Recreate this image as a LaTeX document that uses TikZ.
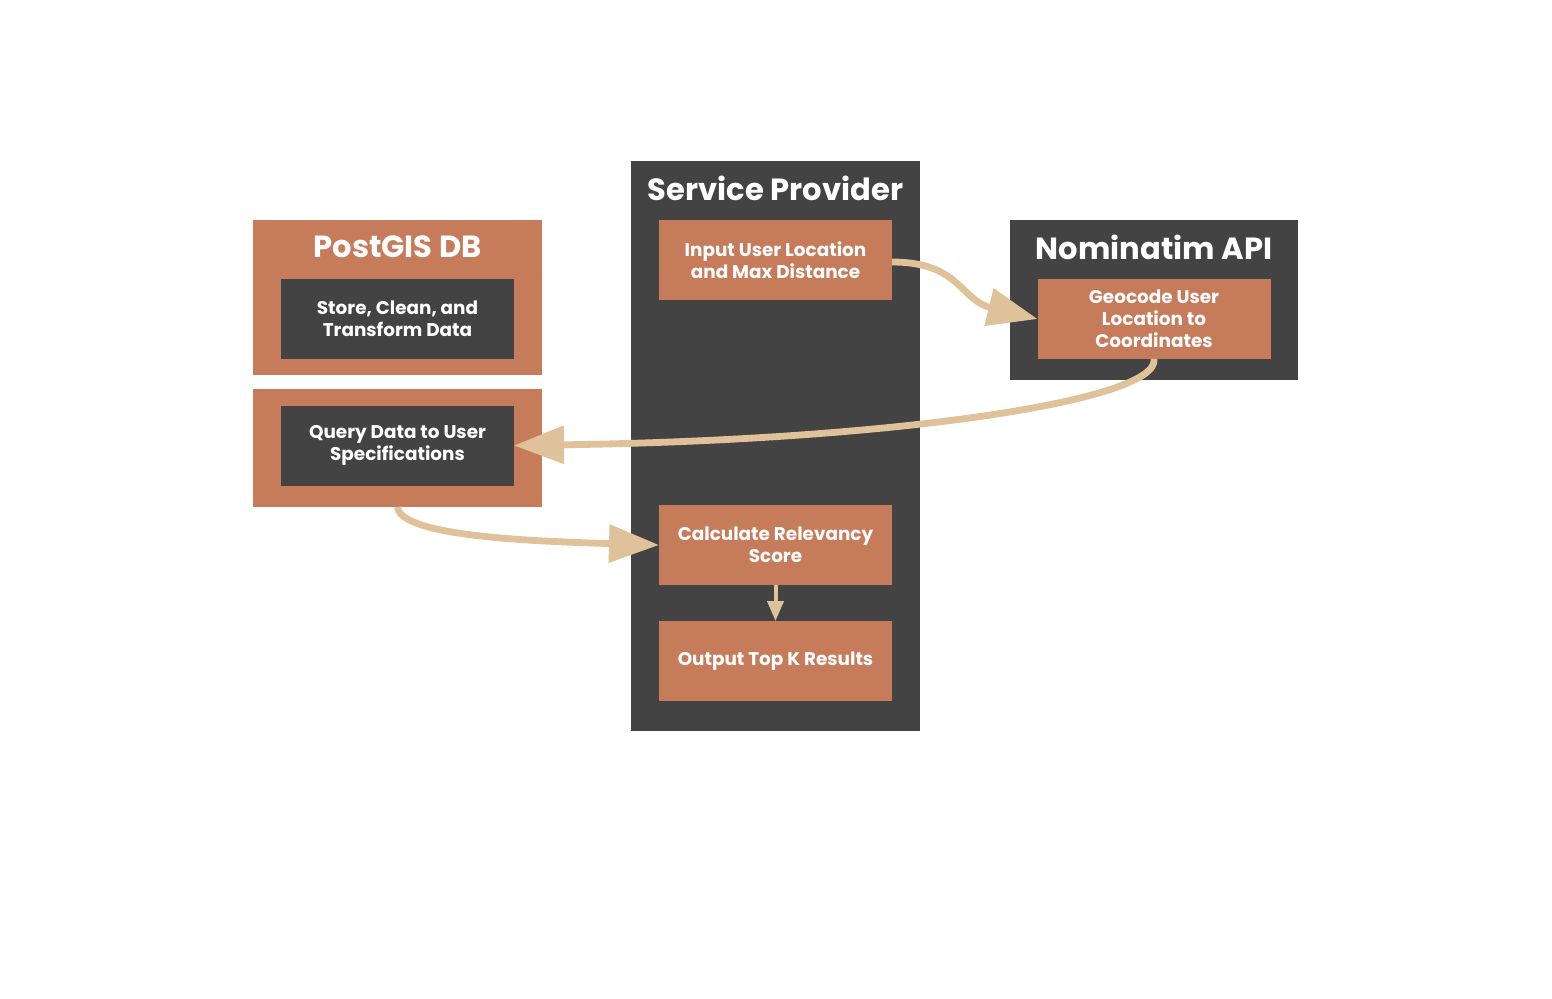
\documentclass[tikz,border=0pt]{standalone}
\usepackage{fontspec}
\setmainfont{Poppins}
\usetikzlibrary{arrows.meta}
\definecolor{orng}{HTML}{C67B5A}
\definecolor{dgray}{HTML}{434343}
\definecolor{tan}{HTML}{DFC19A}
\begin{document}
\begin{tikzpicture}[x=0.5pt,y=-0.5pt,
  panel/.style={inner sep=0pt, outer sep=0pt, minimum width=144.5pt},
  inbox/.style={inner sep=0pt, outer sep=0pt, minimum width=116.5pt, minimum height=40pt,
    text=white, font=\bfseries\fontsize{9.2}{11}\selectfont, align=center},
  ttl/.style={text=white, font=\bfseries\fontsize{15.3}{17}\selectfont, inner sep=0pt},
  flow/.style={draw=tan, line width=3.4pt, -{Triangle[length=25pt,width=18.5pt]}},
  smallflow/.style={draw=tan, line width=2pt, -{Triangle[length=10pt,width=8pt]}}]
\useasboundingbox[fill=white] (0,0) rectangle (1552,998);
% panels
\node[panel, fill=orng, minimum height=77.5pt] (pgtop) at (397.5,297.5) {};
\node[panel, fill=orng, minimum height=59pt] (pgbot) at (397.5,448) {};
\node[panel, fill=dgray, minimum height=285pt] (sp) at (775.5,446) {};
\node[panel, fill=dgray, minimum width=144pt, minimum height=80pt] (nom) at (1154,300) {};
% titles
\node[ttl] (pgt) at (397.5,247) {PostGIS DB};
\node[ttl] (spt) at (775.5,188) {Service Provider};
\node[ttl] (nomt) at (1154,247) {Nominatim API};
% inner boxes
\node[inbox, fill=dgray] (store) at (397.5,319) {Store, Clean, and\\Transform Data};
\node[inbox, fill=dgray] (query) at (397.5,445.5) {Query Data to User\\Specifications};
\node[inbox, fill=orng] (input) at (775.5,260) {Input User Location\\and Max Distance};
\node[inbox, fill=orng] (calc) at (775.5,545) {Calculate Relevancy\\Score};
\node[inbox, fill=orng] (out) at (775.5,661) {Output Top K Results};
\node[inbox, fill=orng] (geo) at (1154,319) {Geocode User\\Location to\\Coordinates};
% connectors
\draw[flow] ([yshift=-1pt]input.east) .. controls (960,262) and (960,300) .. (geo.west);
\draw[flow] (geo.south) .. controls (1160,400) and (900,440) .. (query.east);
\draw[flow] (pgbot.south) .. controls (400,535) and (520,541) .. (calc.west);
\draw[smallflow] (calc.south) -- (out.north);
\end{tikzpicture}
\end{document}
